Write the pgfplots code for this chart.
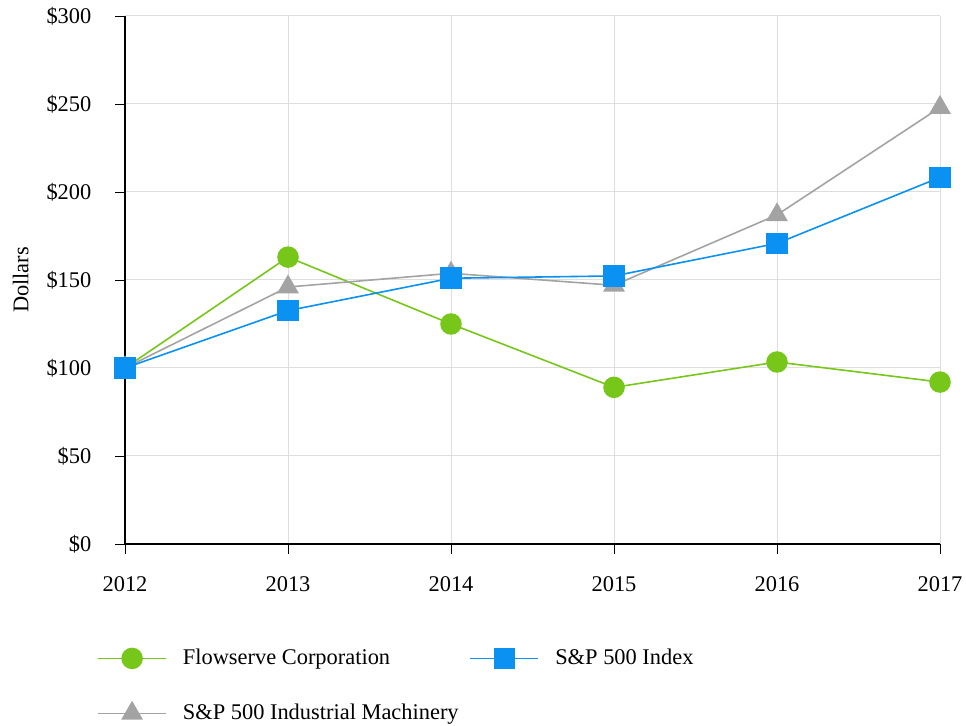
\documentclass[border=0pt]{standalone}
\usepackage{fontspec}
\setmainfont{Liberation Serif}
\usepackage{pgfplots}
\pgfplotsset{compat=1.18}

\definecolor{fgreen}{HTML}{77C71A}
\definecolor{spblue}{HTML}{0A91F2}
\definecolor{imgray}{HTML}{A3A3A3}
\definecolor{gridc}{HTML}{DEDEDE}

\begin{document}
\fontsize{22.5}{27}\selectfont
\begin{tikzpicture}[x=1bp,y=1bp]
\useasboundingbox (0,0) rectangle (966,726);
\begin{axis}[
    at={(125bp,182bp)}, anchor=south west,
    scale only axis, width=815bp, height=528bp,
    xmin=2012, xmax=2017, ymin=0, ymax=300,
    axis lines*=left,
    axis line style={black, line width=1.6pt},
    tick align=outside,
    major tick length=10bp,
    tick style={black, line width=0.9pt},
    grid=major,
    grid style={gridc, line width=1pt},
    xtick={2012,2013,2014,2015,2016,2017},
    xticklabels={2012,2013,2014,2015,2016,2017},
    ytick={0,50,100,150,200,250,300},
    yticklabels={\$0,\$50,\$100,\$150,\$200,\$250,\$300},
    tick label style={font=\fontsize{22.5}{27}\selectfont},
    x tick label style={yshift=-15bp},
    y tick label style={xshift=-16bp},
    ylabel={Dollars},
    ylabel style={at={(axis description cs:-0.128,0.5)}, anchor=center, font=\fontsize{22.5}{27}\selectfont},
    legend columns=2,
    transpose legend,
    legend cell align=left,
    legend style={draw=none, fill=none, inner sep=0pt, outer sep=0pt,
        at={(axis description cs:-0.034,-0.195)}, anchor=north west,
        font=\fontsize{22.5}{27}\selectfont,
        row sep=32bp,
        /tikz/every odd column/.append style={column sep=14bp},
        /tikz/every even column/.append style={column sep=9bp}},
    legend image code/.code={\draw[mark repeat=2,mark phase=2,#1] plot coordinates {(0bp,0bp)(34bp,0bp)(68bp,0bp)};},
]
\addplot[fgreen, line width=1.6bp, mark=*, mark size=10, mark options={fill=fgreen, draw=fgreen}] coordinates {
    (2012,100) (2013,163) (2014,125) (2015,89) (2016,103.4) (2017,92)
};
\addlegendentry{Flowserve Corporation}
\addplot[imgray, line width=1.6bp, mark=triangle*, mark size=11, mark options={fill=imgray, draw=imgray}] coordinates {
    (2012,100) (2013,146) (2014,153.8) (2015,147) (2016,187) (2017,248)
};
\addlegendentry{S\&P 500 Industrial Machinery}
\addplot[spblue, line width=1.6bp, mark=square*, mark size=10, mark options={fill=spblue, draw=spblue}] coordinates {
    (2012,100) (2013,132.6) (2014,151) (2015,152.3) (2016,170.8) (2017,208.3)
};
\addlegendentry{S\&P 500 Index}
\end{axis}
\end{tikzpicture}
\end{document}
